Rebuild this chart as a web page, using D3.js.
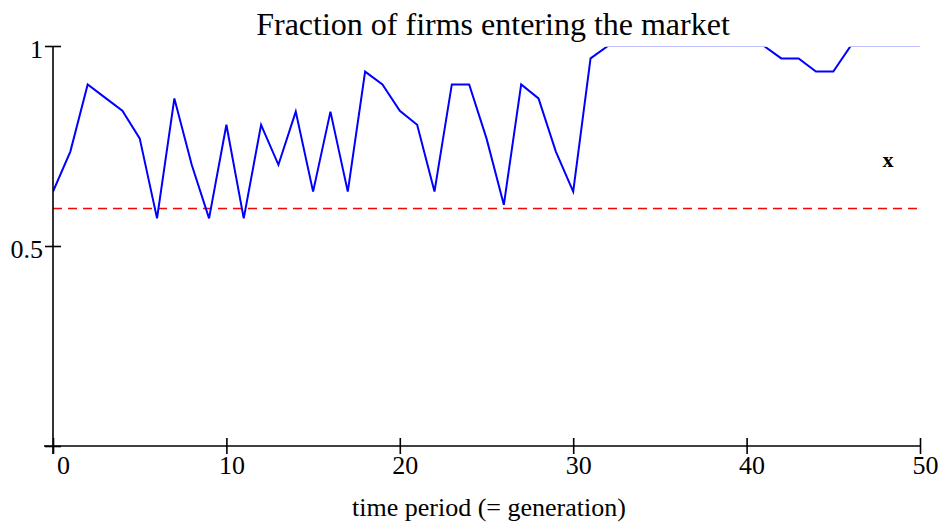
<!DOCTYPE html>
<html>
  <head>
    <meta charset="utf-8">
    <title>Fraction of firms entering the market</title>
    <script src="https://d3js.org/d3.v7.min.js"></script>
    <style>
      body { margin: 0; background: #fff; }
      text { font-family: "Liberation Serif", "Times New Roman", serif; fill: #000; }
    </style>
  </head>
  <body>
    <div id="graph"></div>
  </body>

  <script>
    // Data
    const periods = d3.range(0, 51);
    const entering = [
      0.636, 0.736, 0.904, 0.871, 0.838, 0.769, 0.569, 0.869, 0.703, 0.569,
      0.803, 0.569, 0.803, 0.703, 0.836, 0.636, 0.836, 0.636, 0.936, 0.904,
      0.838, 0.803, 0.636, 0.904, 0.904, 0.769, 0.603, 0.904, 0.869, 0.736,
      0.636, 0.969, 1, 1, 1, 1, 1, 1, 1, 1,
      1, 1, 0.969, 0.969, 0.936, 0.936, 1, 1, 1, 1,
      1
    ];
    const threshold = 0.595;
    const x_ticks = [0, 10, 20, 30, 40, 50];
    const y_ticks = [0, 0.5, 1];
    const y_tick_labels = ["", "0.5", "1"];

    const width = 939;
    const height = 526;
    const margin = ({top: 46, right: 19, bottom: 80, left: 53});

    let svg = d3.select("#graph").append("svg")
      .attr("width", width)
      .attr("height", height);

    let x = d3.scaleLinear()
      .domain([0, 50])
      .range([margin.left, width - margin.right]);
    let y = d3.scaleLinear()
      .domain([0, 1])
      .range([height - margin.bottom, margin.top]);

    // Title
    svg.append("text")
      .attr("x", 493)
      .attr("y", 35)
      .style("text-anchor", "middle")
      .style("font-size", "32px")
      .text("Fraction of firms entering the market");

    // Clip so the part of the line sitting on 1 shows only as a faint edge
    svg.append("clipPath")
      .attr("id", "plot_clip")
      .append("rect")
      .attr("x", margin.left)
      .attr("y", y(1) + 0.75)
      .attr("width", x(50) - x(0) + 2)
      .attr("height", y(0) - y(1));

    // Threshold line
    svg.append("line")
      .attr("x1", x(0))
      .attr("x2", x(50))
      .attr("y1", Math.round(y(threshold)) + 0.5)
      .attr("y2", Math.round(y(threshold)) + 0.5)
      .style("stroke", "#ff0000")
      .style("stroke-width", 1.5)
      .style("stroke-dasharray", "9,6");

    // Data line
    const line = d3.line()
      .x((d, i) => x(periods[i]))
      .y(d => y(d));
    svg.append("path")
      .datum(entering)
      .attr("clip-path", "url(#plot_clip)")
      .attr("d", line)
      .style("fill", "none")
      .style("stroke", "#0000ff")
      .style("stroke-width", 2);

    // x axis (ticks cross the line)
    let x_axis = d3.axisBottom(x)
      .tickValues(x_ticks)
      .tickSizeInner(0)
      .tickSizeOuter(0)
      .tickFormat("");
    let gx = svg.append("g")
      .attr("transform", `translate(0, ${y(0)})`)
      .call(x_axis);
    gx.select(".domain").remove();
    gx.append("line")
      .attr("x1", margin.left - 9)
      .attr("x2", x(50))
      .style("stroke", "#000")
      .style("stroke-width", 1.6);
    gx.selectAll(".tick line")
      .attr("y1", -8)
      .attr("y2", 8)
      .style("stroke", "#000")
      .style("stroke-width", 1.6);
    gx.selectAll(".tick").append("text")
      .attr("x", d => d === 0 ? 10 : 5)
      .attr("y", 28)
      .style("text-anchor", "middle")
      .style("font-size", "26px")
      .text(d => d);

    // y axis
    let y_axis = d3.axisLeft(y)
      .tickValues(y_ticks)
      .tickSizeInner(0)
      .tickSizeOuter(0)
      .tickFormat("");
    let gy = svg.append("g")
      .attr("transform", `translate(${margin.left}, 0)`)
      .call(y_axis);
    gy.select(".domain").remove();
    gy.append("line")
      .attr("y1", y(1))
      .attr("y2", y(0) + 8)
      .style("stroke", "#000")
      .style("stroke-width", 1.6);
    gy.selectAll(".tick line")
      .attr("x1", -8)
      .attr("x2", 8)
      .style("stroke", "#000")
      .style("stroke-width", 1.6);
    gy.selectAll(".tick").append("text")
      .attr("x", -10)
      .attr("y", 11)
      .style("text-anchor", "end")
      .style("font-size", "26px")
      .text((d, i) => y_tick_labels[i]);

    // Series marker label
    svg.append("text")
      .attr("x", 888)
      .attr("y", 167)
      .style("text-anchor", "middle")
      .style("font-size", "22px")
      .style("font-weight", "bold")
      .text("x");

    // x axis label
    svg.append("text")
      .attr("x", 489)
      .attr("y", 516)
      .style("text-anchor", "middle")
      .style("font-size", "26px")
      .text("time period (= generation)");
  </script>
</html>
